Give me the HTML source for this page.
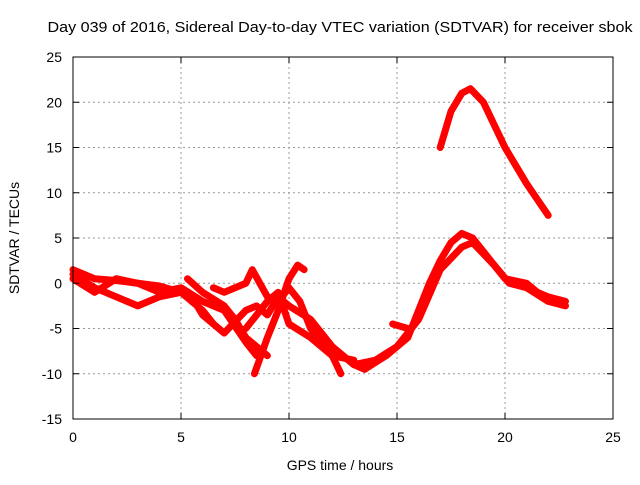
<!DOCTYPE html>
<html><head><meta charset="utf-8"><style>
body{margin:0;background:#fff;}
svg text{font-family:"Liberation Sans",sans-serif;font-size:14px;fill:#000;}
</style></head><body>
<svg id="chart" width="640" height="480" xmlns="http://www.w3.org/2000/svg">
<rect width="640" height="480" fill="#fff"/>
<text x="340" y="32" text-anchor="middle" style="font-size:14.6px" textLength="585" lengthAdjust="spacingAndGlyphs">Day 039 of 2016, Sidereal Day-to-day VTEC variation (SDTVAR) for receiver sbok</text>
<text x="340" y="470" text-anchor="middle">GPS time / hours</text>
<text transform="translate(19,238) rotate(-90)" text-anchor="middle">SDTVAR / TECUs</text>
<g id="grid"></g>
<g id="series"></g>
<rect x="73" y="57" width="540" height="362" fill="none" stroke="#000" stroke-width="1"/>
<g id="ticks"></g>
</svg>
<script>
const xTicks=[0,5,10,15,20,25];
const yTicks=[-15,-10,-5,0,5,10,15,20,25];
const s1=[[17.0,15],[17.5,19],[18.0,21],[18.4,21.5],[19,20],[20,15],[21,11],[22,7.5]];
const s2=[[13.5,-9.5],[14.5,-8],[15.5,-6],[16,-3],[16.5,0],[17,2.5],[17.5,4.5],[18,5.5],[18.5,5],[19,3.5],[19.5,2],[20,0.5],[21,0],[21.5,-1],[22,-1.5],[22.8,-2]];
const s3=[[13,-9],[14,-8.5],[15,-7],[16,-4],[17,1.5],[18,4],[18.5,4.5],[19.5,2],[20.2,0],[21,-0.5],[22,-2],[22.8,-2.5]];
const s4=[[14.8,-4.5],[15.5,-5]];
const sA=[[0,1.5],[0.5,1],[1,0.5],[2,0.3],[3,0],[4,-0.3],[5,-1],[6,-3],[6.5,-4.5]];
const sB=[[0,1],[1,-0.5],[2,-1.5],[3,-2.5],[4,-1.5],[5,-1],[5.5,-1.5],[6,-3.5],[7,-5.5]];
const sC=[[0,0.5],[1,-1],[2,0.5],[3,0],[4,-1],[5,-0.5],[6,-2],[7,-3],[8,-6.5],[8.5,-8]];
const sD=[[5.3,0.5],[6,-1],[7,-2.5],[7.5,-4],[8,-6],[9,-8]];
const sE=[[6.5,-0.5],[7,-1],[8,0],[8.3,1.5],[9,-1.5],[9.5,-2],[10,-0.5],[10.5,-2],[11,-5],[12,-8],[12.4,-10]];
const sF=[[8.4,-10],[9,-6],[9.5,-3],[10,0.5],[10.4,2],[10.7,1.5]];
const sG=[[7,-5.5],[8,-3],[8.5,-2.5],[9,-3.5],[9.5,-1.5],[10,-2.5],[11,-4],[12,-7],[13,-9],[13.5,-9.5]];
const sH=[[8,-5],[9,-2],[9.5,-1],[10,-4.5],[11,-6],[12,-8],[13,-8.5]];
const allSeries=[s1,s2,s3,s4,sA,sB,sC,sD,sE,sF,sG,sH];
const NS="http://www.w3.org/2000/svg";
const X0=73,X1=613,Y0=419,Y1=57;
function xs(v){return X0+(v-0)/(25-0)*(X1-X0);}
function ys(v){return Y0-(v+15)/(25+15)*(Y0-Y1);}
const grid=document.getElementById('grid'),ticks=document.getElementById('ticks'),ser=document.getElementById('series');
function mk(t,a,p){const e=document.createElementNS(NS,t);for(const k in a)e.setAttribute(k,a[k]);p.appendChild(e);return e;}
xTicks.forEach(v=>{const x=xs(v);
 if(v>0&&v<25){const g=mk('line',{x1:x,x2:x,y1:Y1,y2:Y0,stroke:'#999','stroke-dasharray':'2,3'},grid);
 
 }
 mk('line',{x1:x,x2:x,y1:Y0,y2:Y0-6,stroke:'#000'},ticks);mk('line',{x1:x,x2:x,y1:Y1,y2:Y1+6,stroke:'#000'},ticks);
 const t=mk('text',{x:x,y:Y0+23,'text-anchor':'middle'},ticks);t.textContent=v;
 
 });
yTicks.forEach(v=>{const y=ys(v);
 if(v>-15&&v<25){const g=mk('line',{x1:X0,x2:X1,y1:y,y2:y,stroke:'#999','stroke-dasharray':'2,3'},grid);
 
 }
 mk('line',{x1:X0,x2:X0+6,y1:y,y2:y,stroke:'#000'},ticks);mk('line',{x1:X1,x2:X1-6,y1:y,y2:y,stroke:'#000'},ticks);
 const t=mk('text',{x:X0-11,y:y+5,'text-anchor':'end'},ticks);t.textContent=v;
 
 });
allSeries.forEach((s,i)=>{
 const p=mk('polyline',{points:s.map(d=>xs(d[0])+','+ys(d[1])).join(' '),fill:'none',stroke:'#f00','stroke-width':7,'stroke-linejoin':'round','stroke-linecap':'round'},ser);
 
 
});
</script>
</body></html>
